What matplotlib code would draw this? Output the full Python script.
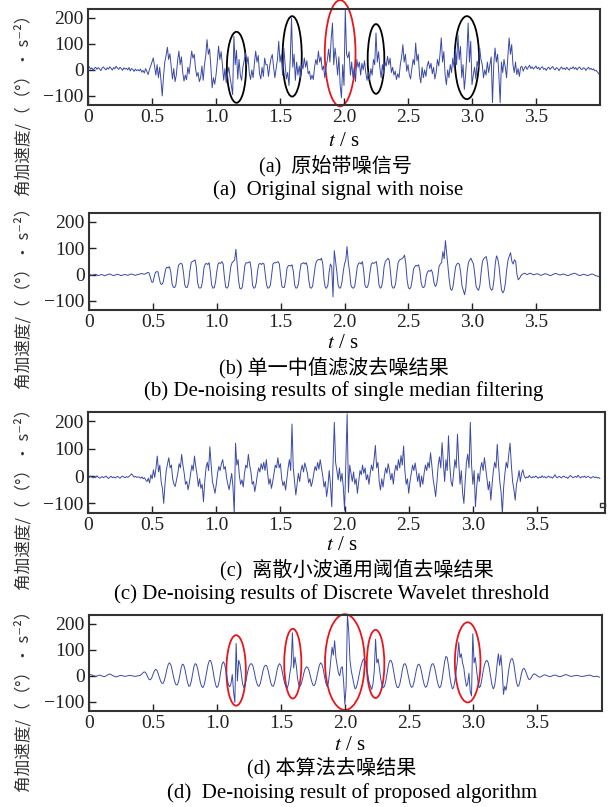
import numpy as np
import matplotlib
matplotlib.use("Agg")
import matplotlib.pyplot as plt
from matplotlib.patches import Ellipse, Rectangle

plt.rcParams["mathtext.fontset"] = "stix"

# sampling times (s), 0.01 s step
t = np.arange(400) * 0.01

# (a) original noisy signal
sig_a = [
    5, 12, 3, 8, -2, 6, 10, 2, 9, 4, -3, 7, 11, 5, 0, 8, 3, 12, 6, -1,
    9, 4, 14, 7, 2, 10, 5, -2, 8, 3, 6, 0, 9, -4, 5, 2, -6, 3, -3, 1,
    -4, 3, -9, -2, -12, 5, -6, -18, 2, 15, 30, 46, 12, -20, 20, -30, 10, -40, -100, -25,
    30, 55, 87, 40, 62, 15, -35, 5, -45, -20, 35, 72, 20, 50, -10, -43, -20, -38, 10, -15,
    30, 72, 45, 60, 5, -25, -10, -45, -30, 15, -40, 20, 55, 116, 60, 80, 10, -69, -30, -55,
    -20, 30, 91, 40, 70, 20, -40, 5, -50, -15, 10, -30, -60, -95, 129, 20, 75, -35, 40, -20,
    -40, 10, 35, 65, 20, 50, -10, -37, 0, -30, 25, 72, 30, 55, -15, -35, 10, -25, 45, 20,
    20, -25, 15, 45, 59, 10, -30, 5, 40, 110, 30, 60, -20, 84, 20, -35, -10, -60, 40, 199,
    10, 60, -40, 30, -20, 15, -30, 20, 5, 46, 10, 35, -15, -5, -37, -20, -37, 10, 40, 20,
    72, 30, 50, 0, 15, -30, 10, 40, 80, 30, 120, 180, 20, 84, 40, -20, 50, -60, -107, 20,
    -60, 231, 60, 46, 70, -20, 30, -30, 10, -45, 40, 10, 30, -20, 25, 0, 35, -10, -40, -10,
    -37, 5, -20, 40, 20, 142, 30, 70, 10, -30, 20, -15, 30, 15, 52, 20, 45, -10, 10, -20,
    -5, -37, -15, -30, 20, 50, 97, 30, 60, -5, 20, -18, -35, 5, 40, 20, 103, 35, 60, -20,
    -50, 10, -30, 0, -25, 15, 33, 5, 25, -15, 10, -35, -10, 40, 15, 60, 123, 30, 70, -20,
    -57, 0, -30, 20, -10, 45, 10, 80, 20, 135, 40, 90, -30, 20, -75, -20, 60, 180, 30, 110,
    -57, -20, 10, -35, 33, 10, 84, 40, 20, -30, 0, -20, 30, -10, 20, 50, -126, 20, 84, 30,
    60, -20, -126, 30, -10, 40, 10, -30, 50, 123, 60, 97, 20, -10, 30, -18, 5, -25, 10, 14,
    -5, 8, 14, 2, 10, 18, 5, 12, 3, 9, 15, 4, 10, 0, 8, 12, 2, 6, -2, 7,
    10, 2, 8, 13, 4, 0, 9, 5, -3, 6, 11, 3, 7, 1, 10, 4, -1, 8, 5, 12,
    3, 9, 0, 7, 11, 4, 1, 8, 6, -2, 5, 10, 2, 6, 0, 4, -4, -2, -8, -15,
]

# (b) single median filter
sig_b = [
    2, -1, -3, -2, 0, 1, -1, -4, -3, -1, 0, -2, -5, -3, -1, 0, 2, 1, -2, -4,
    -3, -1, 1, 0, -2, -4, -3, -1, 0, -1, -3, -2, 0, 2, 1, -1, -3, -2, 0, 1,
    2, 4, 3, 1, 2, 5, 8, 6, -10, -28, -30, -10, 8, 11, 10, -15, -35, -38, -30, -5,
    20, 28, 25, 30, 10, -35, -48, -50, -40, 0, 35, 40, 43, 38, 5, -40, -50, -48, -30, 15,
    45, 50, 52, 56, 30, -30, -50, -52, -48, -20, 25, 40, 42, 38, 45, 10, -40, -52, -50, -30,
    10, 40, 45, 42, 49, 40, -10, -48, -52, -45, -10, 30, 45, 50, 55, 96, 40, -20, -52, -55,
    -48, -10, 35, 45, 44, 46, 49, 20, -40, -52, -50, -30, 15, 40, 42, 38, 43, 40, 0, -40,
    -52, -50, -40, 0, 40, 45, 44, 47, 49, 40, -5, -45, -50, -48, -20, 25, 33, 35, 32, 37,
    10, -40, -52, -50, -35, 10, 40, 42, 45, 40, 45, 30, -20, -50, -52, -45, -10, 30, 50, 55,
    58, 55, 62, 40, -20, -50, -52, -40, 10, 40, 30, -85, 91, 50, 10, -40, -52, -50, -30, 10,
    40, 55, 106, 45, 10, -40, -50, -52, -45, -10, 30, 42, 45, 40, 49, 15, -40, -50, -48, -30,
    10, 40, 45, 42, 46, 49, 10, -40, -52, -48, -20, 30, 50, 55, 62, 55, 10, -42, -52, -50,
    -35, 10, 45, 55, 58, 60, 65, 74, 40, -20, -50, -55, -48, -20, 20, 30, 35, 32, 37, 15,
    -30, -48, -50, -40, -5, 10, 15, 12, 18, 5, -30, -45, -40, -10, 30, 40, 45, 87, 60, 129,
    80, 30, -20, -55, -60, -45, -5, 30, 40, 43, 38, 5, -45, -60, -77, -50, 10, 45, 55, 62,
    50, 40, 0, -45, -55, -60, -40, 10, 50, 60, 65, 68, 40, -10, -50, -60, -55, -20, 40, 71,
    60, 30, -20, -60, -70, -60, -30, 20, 55, 70, 83, 50, 40, 56, 50, 0, -20, -15, -5, 0,
    3, 5, 2, 0, 2, 5, 4, 1, -1, 0, 2, 3, 1, -2, -3, -1, 1, 3, 2, 0,
    -2, -4, -3, 0, 2, 4, 3, 1, -1, -2, 0, 2, 1, -1, -3, -4, -2, 0, 2, 3,
    5, 3, 1, -2, -4, -3, -1, 1, 0, -2, -4, -3, -1, 1, 2, 0, -3, -5, -6, -8,
]

# (c) universal-threshold wavelet denoising
sig_c = [
    -2, -5, 0, -4, -7, -3, -6, 1, -4, -8, -5, -2, -6, -3, 0, -5, -9, -4, -1, -6,
    -3, -7, -4, -1, -5, -8, -3, 0, -4, -6, -2, -5, -1, 3, 8, 2, -4, -1, -5, -3,
    -4, -8, -3, -10, -6, -14, -20, -8, -25, 5, -10, 23, -5, 30, 73, 15, 40, -20, -45, -100,
    -30, 20, 45, 67, 30, 40, -10, -30, -38, -15, 10, 45, 30, 79, 40, 10, -30, -20, -50, -25,
    10, 40, 20, 73, 35, 5, -38, -10, -45, -30, -94, -20, 30, 50, 20, 107, 40, -20, -40, -63,
    -30, 10, 35, 20, 45, 60, 25, 35, -5, -30, -50, -20, 10, -40, -137, 120, 40, 60, 0, -30,
    -14, -40, 10, 40, 30, 79, 40, 15, -30, -20, -57, -30, 5, 30, 15, 45, 25, 50, 20, 60,
    10, -30, -10, -45, -20, 10, 40, 30, 67, 30, 45, -10, -35, -20, -51, -10, 30, 60, 20, 190,
    30, -20, -69, -30, 10, -20, 20, 40, 15, 48, 30, 10, -25, -10, -38, -20, 10, 35, 20, 50,
    25, 60, 30, 0, -40, -20, -75, -40, 20, -30, -112, 40, 196, 50, 20, -14, 30, -20, 10, -40,
    -125, 50, 227, -60, 40, 11, -20, 15, -30, -10, -63, -20, 20, 5, 40, 10, 30, -14, 5, -30,
    10, 40, 20, 60, 112, 30, 50, -20, -51, -10, -40, 0, 30, 10, 45, 20, -14, 10, -30, 15,
    40, 20, 60, 30, 75, 40, 110, 20, -30, -10, -63, -20, 10, 40, 20, 48, 15, -20, 10, -40,
    0, -30, 10, 40, 20, 50, 30, 85, 40, -10, -40, -75, -20, 40, 70, 30, 122, 50, -20, 60,
    20, 147, 40, -20, -38, 10, 60, 30, 153, 50, -30, 20, -60, -100, -20, 50, 80, 30, 196, 40,
    -30, 20, -112, -40, 10, -20, 30, 50, 20, 67, 30, -10, -50, -20, -88, -30, 20, 50, 30, 116,
    40, -20, -60, -137, -40, 10, 50, 30, 80, 120, 40, -20, -50, -88, -30, -10, 20, -20, 10, 23,
    0, -8, -3, -6, 2, -4, -7, -2, -5, 0, -4, -8, -3, -6, 1, -5, -2, -7, -4, 0,
    -5, -3, -8, -2, 5, -4, -6, -1, -3, -7, -2, 0, -5, -4, -9, -3, 2, -2, -6, -4,
    -1, -5, 3, -3, -7, -2, -4, 0, -6, -3, -1, -5, -8, -4, -2, -6, -3, -7, -5, -9,
]

# (d) proposed algorithm
sig_d = [
    3, 5, 4, 2, 0, -2, -1, 1, 3, 2, 0, -2, -3, -1, 2, 5, 7, 6, 3, 0,
    -2, -4, -3, -1, 1, 2, 1, -1, -2, -1, 0, 1, 2, 1, 0, -1, -2, -1, 0, 1,
    2, 6, 11, 15, 14, 6, -5, -14, -15, -8, 5, 18, 25, 22, 10, -6, -20, -29, -28, -16,
    5, 28, 45, 50, 42, 22, -2, -22, -34, -35, -22, 2, 30, 45, 42, 25, 0, -25, -40, -38,
    -20, 8, 35, 47, 44, 26, 0, -24, -40, -45, -35, -12, 15, 42, 58, 60, 45, 18, -12, -35,
    -45, -38, -15, 18, 45, 54, 45, 20, -10, -35, -42, -30, 5, -60, -102, 125, -20, 60, 45, 10,
    -30, -45, -35, -10, 15, 35, 45, 47, 40, 20, -5, -25, -38, -40, -28, -5, 20, 36, 41, 38,
    22, -2, -25, -38, -40, -28, -5, 22, 40, 47, 40, 18, -8, -30, -42, -46, -30, 10, 40, 166,
    30, 72, 40, -10, -35, -40, -30, -10, 12, 28, 35, 32, 20, 0, -20, -35, -38, -28, -5, 20,
    40, 50, 45, 28, 0, -25, -40, -30, 10, 60, 110, 80, 135, 70, 40, 10, 0, 30, 35, -20,
    -109, -40, 235, 172, 60, 20, -5, -30, -50, -45, -25, 0, 25, 45, 60, 66, 55, 30, 0, -25,
    -40, -52, -30, 20, 141, 50, 65, 30, -10, -35, -45, -40, -20, 10, 40, 58, 60, 48, 22, -8,
    -32, -45, -44, -30, -5, 25, 44, 47, 38, 15, -10, -32, -44, -42, -25, 0, 25, 42, 45, 36,
    14, -12, -33, -44, -40, -22, 5, 30, 45, 47, 36, 12, -15, -36, -46, -40, -15, 20, 55, 75,
    70, 40, 0, -30, -50, -45, -20, 20, 60, 129, 70, 85, 50, 30, -10, -40, -30, 10, -60, -77,
    162, 50, 70, 20, -20, -45, -40, -15, 15, 40, 55, 60, 52, 28, -5, -35, -50, -40, -5, 45,
    85, 40, 80, 20, -71, -40, -55, -20, 20, 50, 65, 66, 48, 15, -20, -40, -38, -18, 8, 25,
    29, 22, 8, -6, -14, -12, -4, 4, 8, 6, 2, -2, -5, -4, -1, 2, 4, 3, 1, -1,
    -3, -2, 0, 2, 3, 2, 0, -2, -3, -2, 0, 2, 4, 5, 3, 1, -1, -2, -1, 0,
    1, 2, 1, 0, -1, -2, -2, -1, 0, 1, 2, 3, 2, 0, -2, -3, -2, -1, -3, -5,
]

# highlighted impact regions: (t centre, value centre, width, height)
marks_a_black = [(1.16, 10, 0.15, 273), (1.595, 52, 0.15, 309),
                 (2.25, 42, 0.13, 268), (2.96, 47, 0.19, 319)]
marks_a_red = [(1.97, 64, 0.24, 408)]
marks_d_red = [(1.15, 21, 0.152, 271), (1.593, 47, 0.134, 268), (2.0, 53, 0.31, 368),
               (2.24, 46, 0.137, 262), (2.96, 52, 0.2, 308)]

xticks = [0, 0.5, 1.0, 1.5, 2.0, 2.5, 3.0, 3.5]
xticklabels = ["0", "0.5", "1.0", "1.5", "2.0", "2.5", "3.0", "3.5"]
yticks = [-100, 0, 100, 200]
yticklabels = ["\u2212100", "0", "100", "200"]

cn_titles = ["(a)  原始带噪信号", "(b) 单一中值滤波去噪结果",
             "(c)  离散小波通用阈值去噪结果", "(d) 本算法去噪结果"]
en_titles = ["(a)  Original signal with noise",
             "(b) De-noising results of single median filtering",
             "(c) De-noising results of Discrete Wavelet threshold",
             "(d)  De-noising result of proposed algorithm"]

W, H = 610, 807
serif = "Liberation Serif"
mixed = ["Liberation Serif", "Noto Sans CJK SC"]
line_color = "#3a4aa6"

fig = plt.figure(figsize=(W / 100, H / 100), dpi=100)

# pixel boxes: left, right, top, bottom, x max
boxes = [(88, 600, 9, 105, 4.0), (89, 600, 213, 310, 4.0),
         (88, 605, 412, 513, 4.03), (89, 602, 615, 711, 4.01)]
signals = [sig_a, sig_b, sig_c, sig_d]
# text rows (pixels from top): t/s label, chinese caption, english caption
rows = [(141, 166, 190), (343, 368, 391), (545, 570, 594), (745, 768, 793)]
cap_x = [(344, 335, 338), (343, 334, 344), (342, 357, 332), (350, 332, 352)]
ylab_y = [101, 294, 495, 697]

axes = []
for k, (l, r, tp, bt, xmax) in enumerate(boxes):
    ax = fig.add_axes([l / W, 1 - bt / H, (r - l) / W, (bt - tp) / H])
    ax.plot(t, signals[k], color=line_color, lw=0.7)
    ax.set_xlim(0, xmax)
    ax.set_ylim(-135, 234)
    ax.set_xticks(xticks)
    ax.set_xticklabels(xticklabels, fontfamily=serif, fontsize=14)
    ax.set_yticks(yticks)
    ax.set_yticklabels(yticklabels, fontfamily=serif, fontsize=14)
    ax.tick_params(direction="in", length=5, width=1, pad=3, colors="#222222")
    for s in ax.spines.values():
        s.set_linewidth(1.5)
        s.set_color("#333333")
    axes.append(ax)

    ty, cy, ey = rows[k]
    tx, cx, ex = cap_x[k]
    fig.text(tx / W, 1 - ty / H, "$t$ / s", ha="center", va="center",
             fontfamily=serif, fontsize=15)
    fig.text(cx / W, 1 - cy / H, cn_titles[k], ha="center", va="center",
             fontfamily=mixed, fontsize=14.5)
    fig.text(ex / W, 1 - ey / H, en_titles[k], ha="center", va="center",
             fontfamily=serif, fontsize=15)
    fig.text(24 / W, 1 - ylab_y[k] / H, "角加速度/（（°）• s⁻²）", rotation=90,
             ha="center", va="center", fontsize=12,
             fontfamily=["Noto Sans CJK SC", "DejaVu Sans"], color="#333333")

for (x, y, w, h) in marks_a_black:
    axes[0].add_patch(Ellipse((x, y), w, h, fill=False, ec="black", lw=1.3, clip_on=False))
for (x, y, w, h) in marks_a_red:
    axes[0].add_patch(Ellipse((x, y), w, h, fill=False, ec="#e8161b", lw=1.3, clip_on=False))
for (x, y, w, h) in marks_d_red:
    axes[3].add_patch(Ellipse((x, y), w, h, fill=False, ec="#e8161b", lw=1.3, clip_on=False))

# small box on the right edge of panel (c)
axes[2].add_patch(Rectangle((3.99, -112), 0.04, 12, fill=False, ec="#333333", lw=1,
                            clip_on=False))

fig.savefig("out.png", dpi=100)
